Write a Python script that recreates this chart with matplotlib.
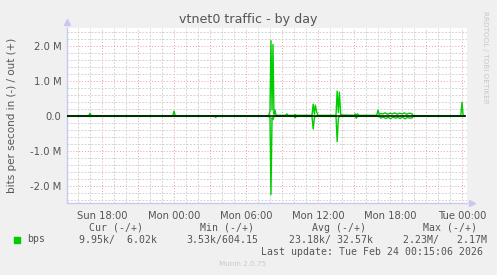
import matplotlib
matplotlib.use("Agg")
import matplotlib.pyplot as plt
import numpy as np

# hours relative to Mon 00:00, values in Mbit/s
out_hours = [-8.9, -7.1, -7.0, -6.9, -0.1, 0.0, 0.1, 7.9, 8.0, 8.08, 8.17, 8.25,
             8.33, 8.42, 8.5, 9.3, 9.4, 9.5, 10.0, 10.1, 10.2, 11.5, 11.6, 11.7,
             11.78, 11.9, 12.0, 13.5, 13.6, 13.7, 13.78, 13.9, 15.0, 15.1, 15.2,
             15.3, 15.4, 16.9, 17.0, 17.1, 17.25, 17.4, 17.6, 17.8, 18.0, 18.2,
             18.4, 18.6, 18.8, 19.0, 19.2, 19.4, 19.6, 19.8, 19.95, 23.9, 24.0,
             24.1, 24.25]
out_vals = [0.01, 0.01, 0.08, 0.01, 0.01, 0.14, 0.01, 0.01, 0.15, 2.15, 0.17, 2.04,
            0.05, 0.17, 0.02, 0.02, 0.06, 0.02, 0.02, 0.04, 0.02, 0.02, 0.34, 0.05,
            0.31, 0.10, 0.02, 0.02, 0.71, 0.10, 0.68, 0.03, 0.02, 0.06, 0.03,
            0.06, 0.02, 0.02, 0.17, 0.05, 0.07, 0.06, 0.09, 0.05, 0.08, 0.06,
            0.09, 0.05, 0.08, 0.06, 0.09, 0.05, 0.08, 0.07, 0.01, 0.01, 0.39,
            0.01, 0.01]

in_hours = [-8.9, 3.4, 3.47, 3.55, 7.9, 8.0, 8.08, 8.17, 8.25, 8.33, 10.0, 10.1,
            10.2, 11.5, 11.6, 11.7, 11.8, 13.5, 13.6, 13.7, 13.8, 15.1, 15.2, 15.3,
            17.1, 17.25, 17.45, 17.65, 17.85, 18.05, 18.25, 18.45, 18.65, 18.85,
            19.05, 19.25, 19.45, 19.65, 19.85, 19.95, 24.25]
in_vals = [-0.01, -0.01, -0.04, -0.01, -0.01, -0.06, -2.24, -0.05, -0.10, -0.01,
           -0.01, -0.05, -0.01, -0.01, -0.37, -0.05, -0.01, -0.01, -0.73, -0.05,
           -0.01, -0.01, -0.06, -0.01, -0.01, -0.06, -0.03, -0.07, -0.04, -0.08,
           -0.03, -0.06, -0.04, -0.07, -0.03, -0.08, -0.04, -0.06, -0.05, -0.01,
           -0.01]

tick_hours = [-6, 0, 6, 12, 18, 24]
tick_labels = ["Sun 18:00", "Mon 00:00", "Mon 06:00", "Mon 12:00", "Mon 18:00", "Tue 00:00"]
y_ticks = [-2, -1, 0, 1, 2]
y_labels = ["-2.0 M", "-1.0 M", "0.0", "1.0 M", "2.0 M"]

legend_cols = ["Cur (-/+)", "Min (-/+)", "Avg (-/+)", "Max (-/+)"]
legend_vals = ["9.95k/  6.02k", "3.53k/604.15", "23.18k/ 32.57k", "2.23M/   2.17M"]

green = "#00cc00"
txt = "#555555"

fig = plt.figure(figsize=(4.97, 2.75), dpi=100)
fig.patch.set_facecolor("#f0f0f0")
ax = fig.add_axes([67 / 497, 1 - 203 / 275, 400 / 497, 175 / 275])
ax.set_facecolor("white")

ax.set_xlim(-8.92, 24.42)
ax.set_ylim(-2.48, 2.51)

# grid
for h in np.arange(-8, 25, 1):
    major = (h % 3 == 0)
    ax.axvline(h, color="#e8a0a0" if major else "#d4d4d4", lw=0.7,
               linestyle=(0, (1, 2)) if major else (0, (2, 1.5)), zorder=1)
for v in np.arange(-2.4, 2.51, 0.2):
    major = abs(v - round(v)) < 1e-6
    ax.axhline(v, color="#e8a0a0" if major else "#d4d4d4", lw=0.7,
               linestyle=(0, (1, 2)) if major else (0, (2, 1.5)), zorder=1)

ax.plot(out_hours, out_vals, color=green, lw=1.0, zorder=3)
ax.plot(in_hours, in_vals, color=green, lw=1.0, zorder=3)
ax.plot([-8.92, 24.25], [0, 0], color="black", lw=1.1, zorder=4)

ax.set_xticks(tick_hours)
ax.set_xticklabels(tick_labels)
ax.set_yticks(y_ticks)
ax.set_yticklabels(y_labels)
ax.tick_params(axis="both", labelsize=7.2, colors=txt, length=0, pad=4)
ax.tick_params(axis="x", pad=6)

for side in ["top", "right"]:
    ax.spines[side].set_visible(False)
for side in ["left", "bottom"]:
    ax.spines[side].set_color("#c8c8f0")
    ax.spines[side].set_linewidth(1.0)
ax.plot([0], [1.035], marker="^", color="#c8c8f0", ms=5, transform=ax.transAxes, clip_on=False)
ax.plot([1.012], [0], marker=">", color="#c8c8f0", ms=5, transform=ax.transAxes, clip_on=False)

fig.text(248 / 497, 1 - 19 / 275, "vtnet0 traffic - by day", ha="center", va="center",
         fontsize=9.1, color=txt)
fig.text(12 / 497, 1 - 115 / 275, "bits per second in (-) / out (+)", rotation=90,
         ha="center", va="center", fontsize=7.5, color=txt)
fig.text(485 / 497, 1 - 57 / 275, "RRDTOOL / TOBI OETIKER", rotation=270,
         ha="center", va="center", fontsize=5.2, color="#c8c8c8")

# legend
mono = "DejaVu Sans Mono"
fig.patches.append(plt.Rectangle((14 / 497, 1 - 243 / 275), 6 / 497, 6 / 275,
                                 transform=fig.transFigure, color=green))
fig.text(26.7 / 497, 1 - 239.5 / 275, "bps", family=mono, fontsize=7.1, color=txt, va="center")
col_starts = [89.3, 200, 312.3, 423]
val_starts = [78.7, 186.7, 289.3, 403.3]
for cx, label in zip(col_starts, legend_cols):
    fig.text(cx / 497, 1 - 227.7 / 275, label, family=mono, fontsize=7.1, color=txt, va="center")
for vx, label in zip(val_starts, legend_vals):
    fig.text(vx / 497, 1 - 239.5 / 275, label, family=mono, fontsize=7.1, color=txt, va="center")
fig.text(482.7 / 497, 1 - 251.7 / 275, "Last update: Tue Feb 24 00:15:06 2026",
         family=mono, fontsize=7.1, color=txt, va="center", ha="right")
fig.text(243 / 497, 1 - 264 / 275, "Munin 2.0.75", ha="center", va="center",
         fontsize=5.2, color="#c8c8c8")

fig.savefig("out.png", dpi=100, facecolor=fig.get_facecolor())
